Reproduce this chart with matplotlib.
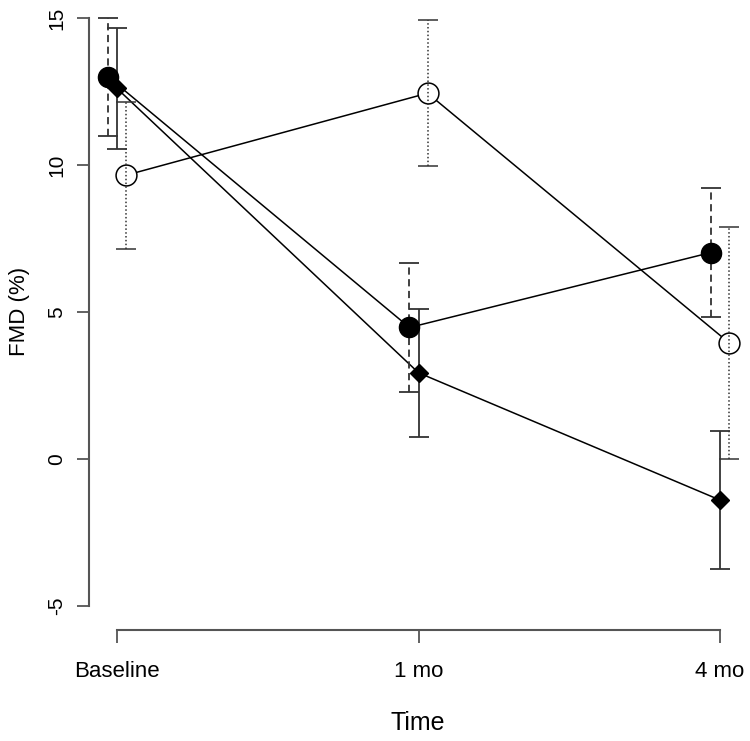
import matplotlib
matplotlib.use("Agg")
import matplotlib.pyplot as plt
import numpy as np

plt.rcParams['font.family'] = ['Liberation Sans', 'DejaVu Sans']

# time points and labels
times = [1, 2, 3]
time_labels = ["Baseline", "1 mo", "4 mo"]

# group 1: filled circles, dashed error bars
filled_mean = [13.0, 4.47, 7.02]
filled_err = [2.0, 2.2, 2.2]

# group 2: filled diamonds, solid error bars
diamond_mean = [12.6, 2.93, -1.40]
diamond_err = [2.05, 2.17, 2.35]

# group 3: open circles, dotted error bars
open_mean = [9.65, 12.44, 3.95]
open_err = [2.5, 2.48, 3.95]

yticks = [-5, 0, 5, 10, 15]

fig = plt.figure(figsize=(7.5, 7.41), dpi=100)
ax = fig.add_axes([89 / 750, 1 - 630 / 741, (750 - 89) / 750, 630 / 741])

x = np.array(times, dtype=float)
bar_col = '#333333'

# connecting lines
ax.plot(x - 0.03, filled_mean, color='black', lw=1.1, zorder=2)
ax.plot(x, diamond_mean, color='black', lw=1.1, zorder=2)
ax.plot(x + 0.03, open_mean, color='black', lw=1.1, zorder=2)

# markers
ax.plot(x - 0.03, filled_mean, 'o', ms=14.5, mfc='black', mec='black', zorder=4)
ax.plot(x, diamond_mean, 'D', ms=9.5, mfc='black', mec='black', zorder=4)
ax.plot(x + 0.03, open_mean, 'o', ms=15, mfc='white', mec='black', mew=1.1, zorder=4)

# error bars
eb = ax.errorbar(x - 0.03, filled_mean, yerr=filled_err, fmt='none', ecolor=bar_col,
                 elinewidth=1.3, capsize=7.5, capthick=1.3, zorder=3)
eb[2][0].set_linestyle((0, (4, 2.5)))
eb = ax.errorbar(x, diamond_mean, yerr=diamond_err, fmt='none', ecolor=bar_col,
                 elinewidth=1.3, capsize=7.5, capthick=1.3, zorder=3)
eb = ax.errorbar(x + 0.03, open_mean, yerr=open_err, fmt='none', ecolor=bar_col,
                 elinewidth=1.1, capsize=7.5, capthick=1.1, zorder=5)
eb[2][0].set_linestyle((0, (1, 1.5)))

ax.set_xlim(0.907, 3.0995)
ax.set_ylim(-5.82, 15.61)

for s in ['top', 'right']:
    ax.spines[s].set_visible(False)
ax.spines['left'].set_bounds(-5, 15)
ax.spines['bottom'].set_bounds(1, 3)
for s in ['left', 'bottom']:
    ax.spines[s].set_color('#555555')
    ax.spines[s].set_linewidth(1.5)

ax.set_yticks(yticks)
ax.set_yticklabels([str(v) for v in yticks], rotation=90, va='center', fontsize=15)
ax.set_xticks(times)
ax.set_xticklabels(time_labels, fontsize=16)
ax.tick_params(axis='y', length=8.6, width=1.3, color='#555555', pad=8)
ax.tick_params(axis='x', length=9.4, width=1.3, color='#555555', pad=13)

ax.set_xlabel("Time", fontsize=18, va='center')
ax.xaxis.set_label_coords(0.498, -0.148)
ax.set_ylabel("FMD (%)", fontsize=16, va='center')
ax.yaxis.set_label_coords(-0.105, 0.505)

fig.savefig("out.png", dpi=100)
